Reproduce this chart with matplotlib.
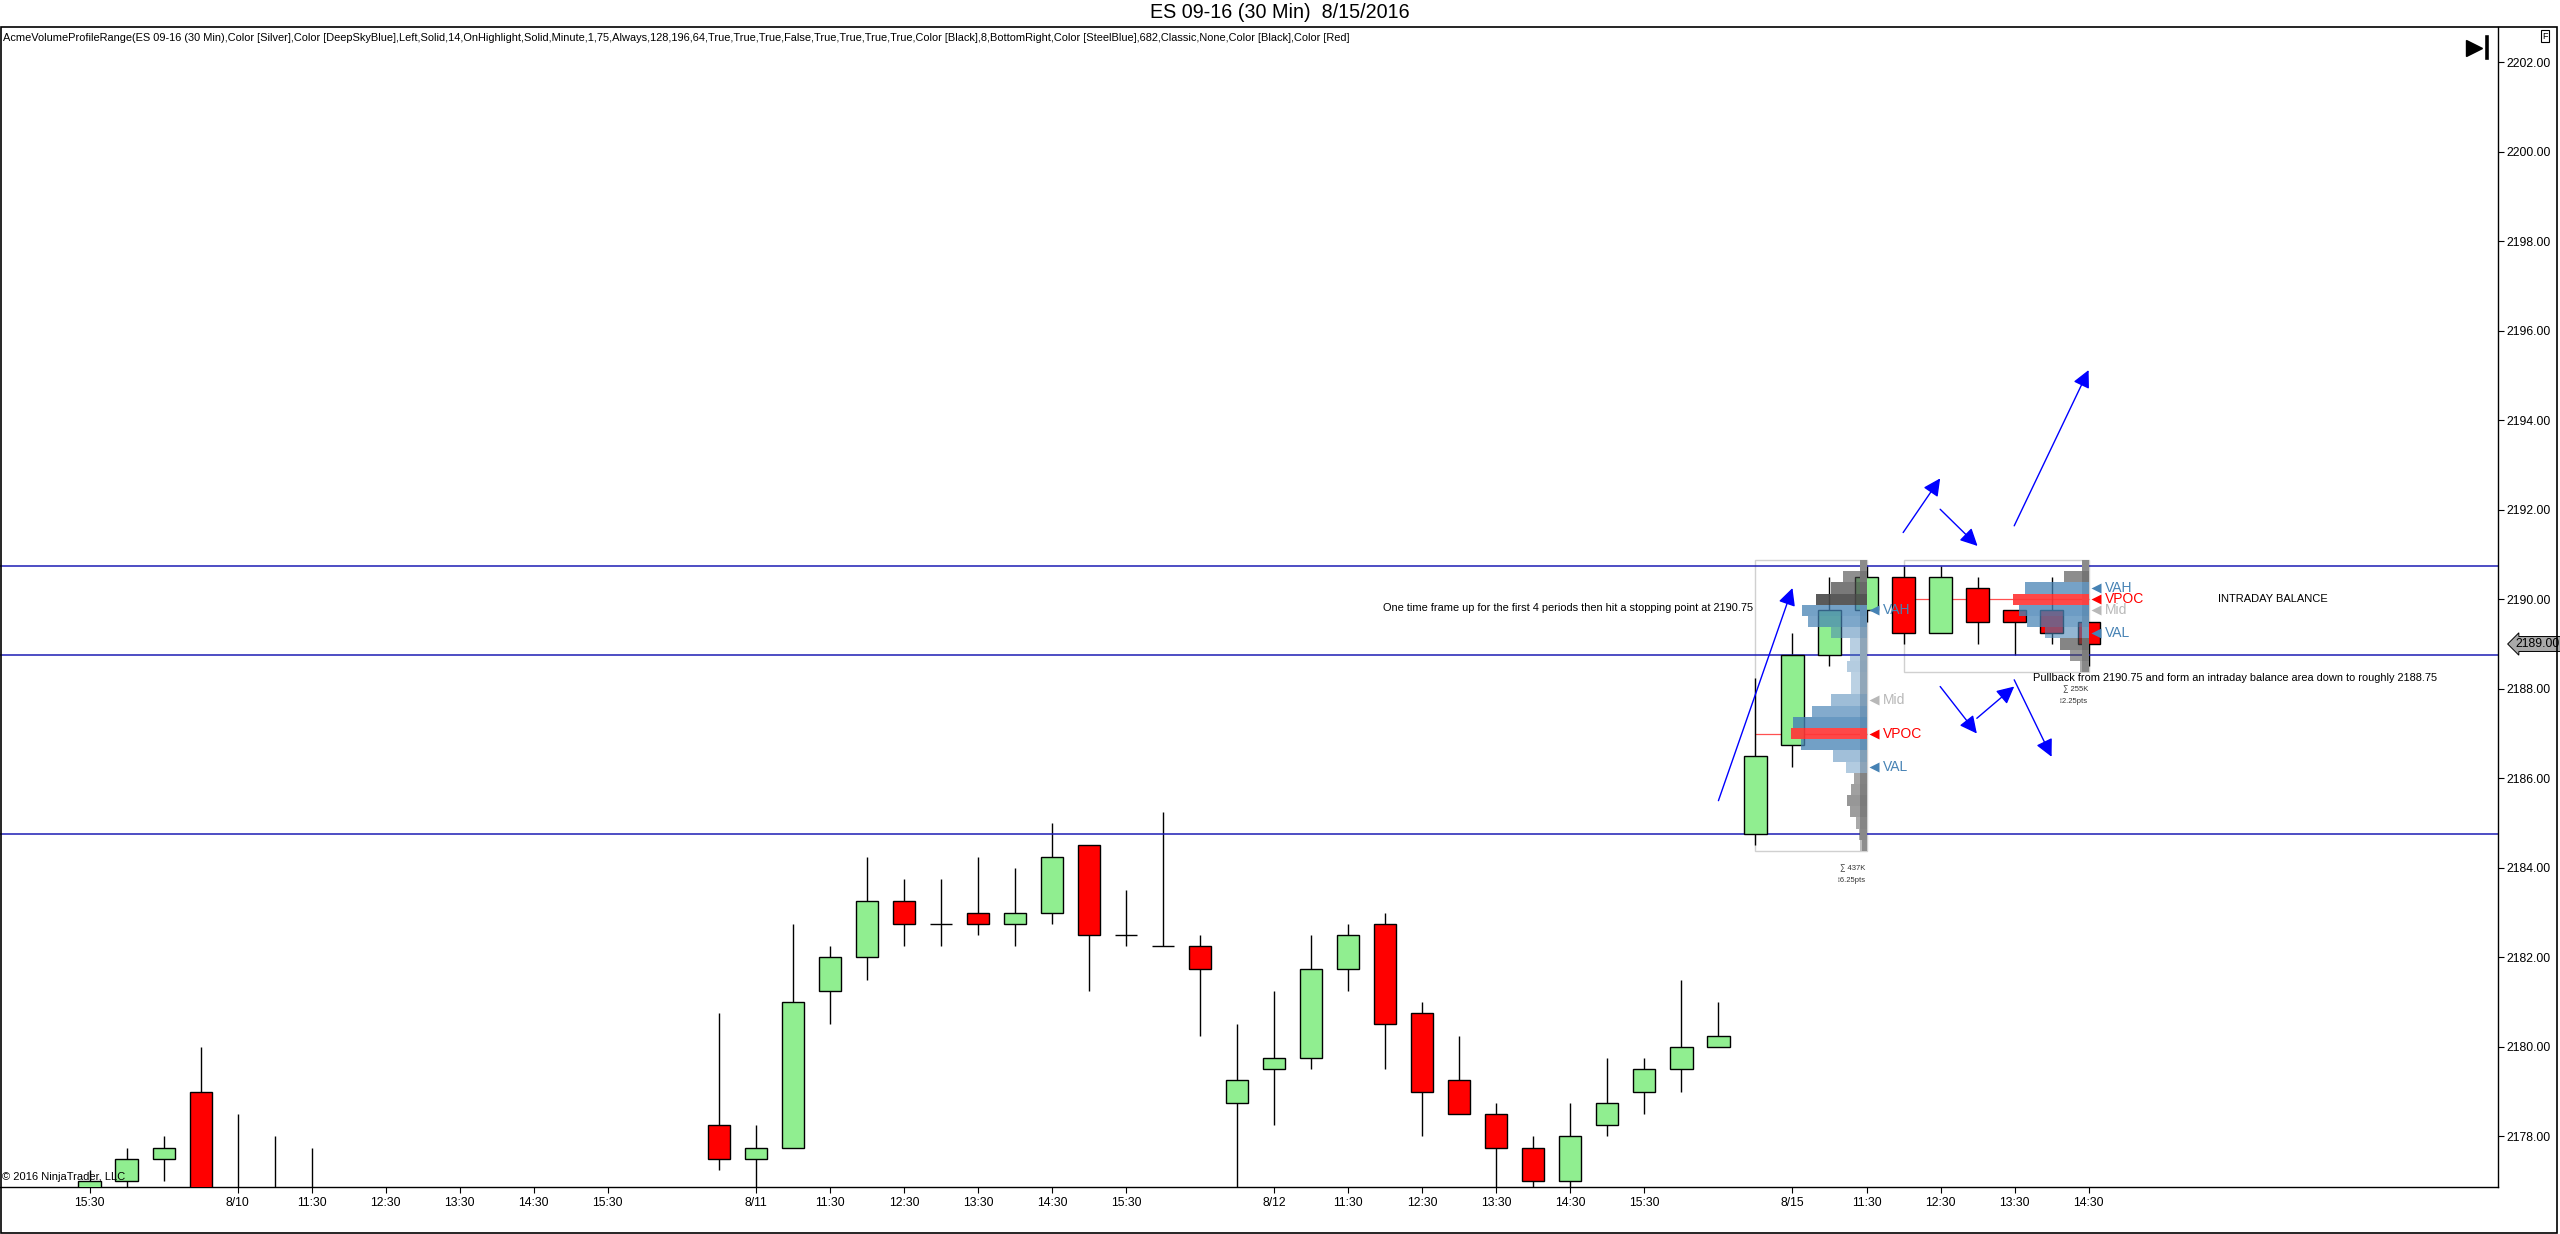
import math
import matplotlib
matplotlib.use("Agg")
import matplotlib.pyplot as plt
from matplotlib.patches import Rectangle
from matplotlib.transforms import blended_transform_factory

plt.rcParams['font.family'] = ['Liberation Sans', 'DejaVu Sans']

# ---- data -------------------------------------------------------------
day_slots = ['10:00', '10:30', '11:00', '11:30', '12:00', '12:30', '13:00',
             '13:30', '14:00', '14:30', '15:00', '15:30', '16:00', '16:15']
sessions = [('8/9', ['15:30', '16:00', '16:15']),
            ('8/10', day_slots),
            ('8/11', day_slots),
            ('8/12', day_slots),
            ('8/15', day_slots[:10])]

# bars of 8/10 after 11:30 are below the visible price range
opens = [2176.75, 2177.00, 2177.50,
         2179.00, 2176.25, 2175.75, 2175.50, None, None, None, None, None, None, None, None, None, None,
         2178.25, 2177.50, 2177.75, 2181.25, 2182.00, 2183.25, 2182.75, 2183.00, 2182.75, 2183.00, 2184.50, 2182.50, 2182.25, 2182.25,
         2178.75, 2179.50, 2179.75, 2181.75, 2182.75, 2180.75, 2179.25, 2178.50, 2177.75, 2177.00, 2178.25, 2179.00, 2179.50, 2180.00,
         2184.75, 2186.75, 2188.75, 2189.75, 2190.50, 2189.25, 2190.25, 2189.75, 2189.75, 2189.50]
highs = [2177.25, 2177.75, 2178.00,
         2180.00, 2178.50, 2178.00, 2177.75, None, None, None, None, None, None, None, None, None, None,
         2180.75, 2178.25, 2182.75, 2182.25, 2184.25, 2183.75, 2183.75, 2184.25, 2184.00, 2185.00, 2184.50, 2183.50, 2185.25, 2182.50,
         2180.50, 2181.25, 2182.50, 2182.75, 2183.00, 2181.00, 2180.25, 2178.75, 2178.00, 2178.75, 2179.75, 2179.75, 2181.50, 2181.00,
         2188.25, 2189.25, 2190.50, 2190.75, 2190.75, 2190.75, 2190.50, 2189.75, 2190.50, 2189.50]
lows = [2176.50, 2176.75, 2177.00,
        2176.00, 2175.50, 2175.25, 2175.00, None, None, None, None, None, None, None, None, None, None,
        2177.25, 2176.50, 2177.75, 2180.50, 2181.50, 2182.25, 2182.25, 2182.50, 2182.25, 2182.75, 2181.25, 2182.25, 2182.25, 2180.25,
        2176.50, 2178.25, 2179.50, 2181.25, 2179.50, 2178.00, 2178.50, 2176.50, 2176.75, 2176.75, 2178.00, 2178.50, 2179.00, 2180.00,
        2184.50, 2186.25, 2188.50, 2189.50, 2189.00, 2189.25, 2189.00, 2188.75, 2189.00, 2188.50]
closes = [2177.00, 2177.50, 2177.75,
          2176.25, 2175.75, 2175.50, 2175.75, None, None, None, None, None, None, None, None, None, None,
          2177.50, 2177.75, 2181.00, 2182.00, 2183.25, 2182.75, 2182.75, 2182.75, 2183.00, 2184.25, 2182.50, 2182.50, 2182.25, 2181.75,
          2179.25, 2179.75, 2181.75, 2182.50, 2180.50, 2179.00, 2178.50, 2177.75, 2177.00, 2178.00, 2178.75, 2179.50, 2180.00, 2180.25,
          2186.50, 2188.75, 2189.75, 2190.50, 2189.25, 2190.50, 2189.50, 2189.50, 2189.25, 2189.00]

# volume profiles (volume in K per 0.25 tick, from top price down)
tick_size = 0.25
profile1_bars = (45, 48)
profile1_top = 2190.75
profile1_vol = [3.3, 12.7, 19.1, 27.7, 35.3, 31.9, 19.1, 9.1, 9.1, 10.9, 8.2, 8.2, 19.1,
                29.5, 40.0, 41.0, 36.0, 18.2, 11.3, 6.9, 8.2, 10.6, 9.1, 5.8, 4.0, 2.7]
profile1_vah, profile1_val = 2189.75, 2186.25

profile2_bars = (49, 54)
profile2_top = 2190.75
profile2_vol = [4.2, 15.7, 40.5, 47.9, 44.5, 39.0, 27.6, 18.2, 11.9, 5.5]
profile2_vah, profile2_val = 2190.25, 2189.25

level_lines = [2190.75, 2188.75, 2184.75]

arrow_starts = [(44.0, 2185.5), (48.99, 2191.49), (49.99, 2192.01), (51.99, 2191.64),
                (49.99, 2188.05), (50.98, 2187.34), (51.99, 2188.2)]
arrow_ends = [(46.0, 2190.25), (49.99, 2192.70), (51.0, 2191.19), (54.0, 2195.12),
              (50.98, 2187.0), (51.99, 2188.05), (53.0, 2186.48)]

last_price = 2189.00

indicator_text = ("AcmeVolumeProfileRange(ES 09-16 (30 Min),Color [Silver],Color [DeepSkyBlue],Left,Solid,14,"
                  "OnHighlight,Solid,Minute,1,75,Always,128,196,64,True,True,True,False,True,True,True,True,"
                  "Color [Black],8,BottomRight,Color [SteelBlue],682,Classic,None,Color [Black],Color [Red]")

# ---- figure -----------------------------------------------------------
UP = '#90EE90'
DOWN = '#FF0000'
STEEL = '#4682B4'

fig = plt.figure(figsize=(25.6, 12.34), dpi=100)
ax = fig.add_axes([0.0, 0.0381, 0.9758, 0.978 - 0.0381])

bar_labels = []
for d, slots in sessions:
    for s in slots:
        bar_labels.append((d, s))

# candles
for k in range(len(opens)):
    o, h, l, c = opens[k], highs[k], lows[k], closes[k]
    if o is None:
        continue
    ax.vlines(k, l, h, color='black', lw=1.0, zorder=2)
    if c > o:
        ax.bar(k, c - o, bottom=o, width=0.6, color=UP, edgecolor='black', lw=1.0, zorder=3)
    elif c < o:
        ax.bar(k, o - c, bottom=c, width=0.6, color=DOWN, edgecolor='black', lw=1.0, zorder=3)
    else:
        ax.hlines(o, k - 0.3, k + 0.3, color='black', lw=1.0, zorder=3)

for lvl in level_lines:
    ax.axhline(lvl, color='#1c1cb4', lw=1.1, zorder=2.5)


def draw_profile(bars, top, vols, vah, val):
    first, right = bars
    prices = [top - i * tick_size for i in range(len(vols))]
    low = prices[-1]
    vmax = max(vols)
    poc = prices[vols.index(vmax)]
    widths = [2.03 * v / vmax for v in vols]

    ax.add_patch(Rectangle((first, low - tick_size / 2), right - first, top - low + tick_size,
                           fill=False, ec='#d0d0d0', lw=1.0, zorder=1))
    ax.hlines(poc, first, right, color='#ff5050', lw=0.9, zorder=1.5)
    ax.add_patch(Rectangle((right - 0.18, low - tick_size / 2), 0.18, top - low + tick_size,
                           fc='#bdbdbd', ec='none', zorder=4))
    colors = []
    for p, v in zip(prices, vols):
        r = v / vmax
        if p == poc:
            colors.append((1.0, 0.22, 0.22, 0.92))
        elif val <= p <= vah:
            colors.append((70 / 255, 130 / 255, 180 / 255, 0.25 + 0.58 * r))
        else:
            colors.append((0.29, 0.29, 0.29, min(1.0, 0.36 + 0.82 * r)))
    ax.barh(prices, widths, left=[right - w for w in widths], height=tick_size,
            color=colors, edgecolor='none', zorder=4.5)

    mid = math.ceil((top + low) / 2 / tick_size) * tick_size
    for name, price, col in [('VAH', vah, STEEL), ('VPOC', poc, '#ff0000'),
                             ('Mid', mid, '#b8b8b8'), ('VAL', val, STEEL)]:
        ax.plot(right + 0.21, price, marker='<', ms=7.5, color=col, mec='none', zorder=6)
        ax.text(right + 0.45, price, name, color=col, fontsize=10, ha='left', va='center', zorder=6)

    ax.text(right - 0.02, low - tick_size / 2 - 0.40, f'\u2211 {sum(vols):.0f}K',
            fontsize=5.5, ha='right', va='center', color='#333333')
    ax.text(right - 0.02, low - tick_size / 2 - 0.65, f'\u2195{top - low:.2f}pts',
            fontsize=5.5, ha='right', va='center', color='#333333')


draw_profile(profile1_bars, profile1_top, profile1_vol, profile1_vah, profile1_val)
draw_profile(profile2_bars, profile2_top, profile2_vol, profile2_vah, profile2_val)

for (x0, y0), (x1, y1) in zip(arrow_starts, arrow_ends):
    ax.annotate('', xy=(x1, y1), xytext=(x0, y0), zorder=7,
                arrowprops=dict(arrowstyle='-|>,head_length=0.7,head_width=0.35',
                                mutation_scale=15, color='#0000ff', lw=1.0,
                                shrinkA=0, shrinkB=0))

ax.text(44.95, 2189.8, 'One time frame up for the first 4 periods then hit a stopping point at 2190.75',
        fontsize=7.9, ha='right', va='center', zorder=7)
ax.text(57.5, 2190.0, 'INTRADAY BALANCE', fontsize=8, ha='left', va='center', zorder=7)
ax.text(52.5, 2188.25, 'Pullback from 2190.75 and form an intraday balance area down to roughly 2188.75',
        fontsize=7.95, ha='left', va='center', zorder=7)

# axes
ax.set_xlim(-2.42, 65.06)
ax.set_ylim(2176.87, 2202.78)

xt, xl = [], []
for k, (d, s) in enumerate(bar_labels):
    if s in ('10:30', '11:30', '12:30', '13:30', '14:30', '15:30'):
        xt.append(k)
        xl.append(d if s == '10:30' else s)
ax.set_xticks(xt)
ax.set_xticklabels(xl)
yt = [2178 + 2 * i for i in range(13)]
ax.set_yticks(yt)
ax.set_yticklabels([f'{v:.2f}' for v in yt])
ax.yaxis.tick_right()
ax.tick_params(axis='y', direction='out', length=4, width=0.8, labelsize=8.8, pad=2)
ax.tick_params(axis='x', direction='out', length=4, width=0.8, labelsize=8.8, pad=3)
for side in ('top', 'left'):
    ax.spines[side].set_visible(False)
for side in ('right', 'bottom'):
    ax.spines[side].set_linewidth(1.0)

trans = blended_transform_factory(ax.transAxes, ax.transData)
ax.text(1.007, last_price, f'{last_price:.2f}', transform=trans, fontsize=8.8, ha='left', va='center',
        bbox=dict(boxstyle='larrow,pad=0.12', fc='#a9a9a9', ec='black', lw=0.7), zorder=8, clip_on=False)

# chrome
ax.plot([0.9905], [0.9824], marker='>', ms=12, color='black', transform=ax.transAxes, clip_on=False)
ax.plot([0.9956, 0.9956], [0.9735, 0.9915], color='black', lw=2.6, transform=ax.transAxes, clip_on=False)
ax.text(0.001, 0.004, '\u00a9 2016 NinjaTrader, LLC', transform=ax.transAxes, fontsize=8,
        ha='left', va='bottom')

fig.patches.append(Rectangle((0.0004, 0.0012), 0.9984, 0.978 - 0.0012, transform=fig.transFigure,
                             fill=False, ec='black', lw=1.2))
fig.text(0.5, 0.9895, 'ES 09-16 (30 Min)  8/15/2016', ha='center', va='center', fontsize=14.2)
fig.text(0.0012, 0.9696, indicator_text, ha='left', va='center', fontsize=7.95)
fig.text(0.9942, 0.9708, 'F', ha='center', va='center', fontsize=6.5,
         bbox=dict(boxstyle='square,pad=0.15', fc='white', ec='black', lw=0.8))

fig.savefig('out.png', dpi=100)
